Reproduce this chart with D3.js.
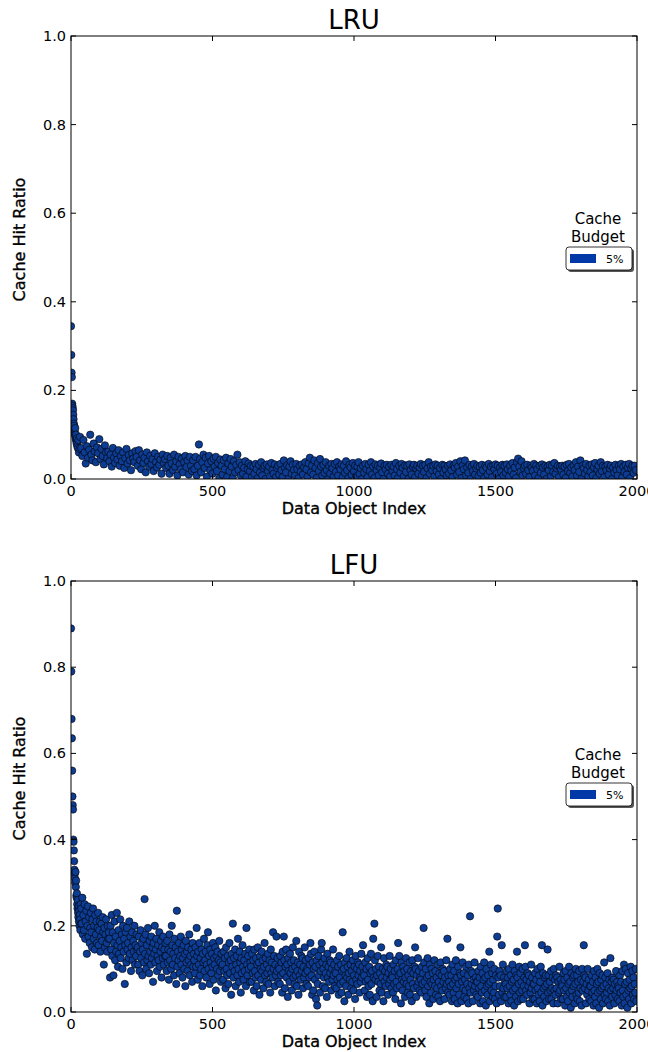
<!DOCTYPE html>
<html lang="en">
<head>
<meta charset="utf-8">
<title>Cache Hit Ratio per Data Object</title>
<script src="https://d3js.org/d3.v7.min.js"></script>
<style>
	body { margin: 0; background: #fff; }
	svg text { font-family: "DejaVu Sans", sans-serif; fill: #000; }
	.frame { fill: none; stroke: #000; stroke-width: 1px; }
	.tick-in { stroke: #000; stroke-width: 1px; }
	.dot { fill: #0d3c93; stroke: #000; stroke-width: 0.6px; }
	.axis-label { font-size: 16px; stroke: #000; stroke-width: 0.35px; }
</style>
</head>
<body>
<script>
	// x ticks, y ticks (shared by both panels)
	var xTicks = [0, 500, 1000, 1500, 2000];
	var yTicks = [0, 0.2, 0.4, 0.6, 0.8, 1.0];
	var legendLabels = ["5%"];

	// LRU: first objects one by one, then every 4th object from 32 on.
	// hit ratio, in thousandths
	var lruHeadX = [0,1,2,3,4,5,6,7,8,9,10,11,12,13,14,15,16,17,18,19,20,21,22,24,26,28,30];
	var lruHeadY = [345,280,240,230,170,165,160,155,145,135,125,120,110,105,100,115,95,90,100,85,80,92,75,70,88,60,68];
	var lruBodyStart = 32, lruBodyStep = 4;
	var lruBody = [
		95,70,52,88,60,35,74,48,66,100,55,42,80,62,38,71,58,90,45,68,52,33,76,60,47,
		62,40,55,28,70,48,36,58,44,65,30,52,40,60,25,47,68,35,54,42,20,58,46,38,63,
		50,30,65,42,22,55,36,48,15,60,40,28,52,34,45,18,58,38,26,50,32,44,12,55,36,
		45,25,52,30,12,48,35,20,55,28,40,8,50,33,22,46,15,38,52,27,42,10,50,30,18,
		42,22,50,8,30,78,45,15,38,55,25,48,5,35,52,20,40,12,46,28,50,18,36,2,44,
		30,10,42,22,48,5,35,18,45,28,2,40,15,32,55,20,38,8,30,12,25,40,5,22,35,
		18,30,5,28,12,34,22,2,32,15,38,8,25,30,0,33,18,28,6,36,20,12,33,4,25,
		30,10,34,20,4,42,25,15,31,0,28,40,12,32,20,8,34,22,2,30,16,33,10,26,38,
		22,5,35,48,15,30,10,42,25,2,36,18,45,28,8,32,14,38,20,0,30,12,34,24,6,
		34,16,38,8,28,22,33,4,30,14,40,20,2,32,26,10,36,18,30,6,28,38,12,24,0,
		30,14,34,22,4,32,18,38,10,28,2,33,20,30,8,26,35,15,0,30,22,32,12,28,6,
		32,18,28,8,36,22,2,30,14,34,25,6,31,16,30,0,33,20,10,28,32,4,24,30,12,
		26,34,8,30,16,32,2,24,38,12,28,20,30,6,33,18,30,10,25,0,32,14,30,22,8,
		30,12,33,20,4,30,26,36,10,28,16,40,2,30,22,42,8,26,14,32,0,28,18,34,10,
		24,30,6,28,14,32,20,2,30,26,10,34,18,28,4,30,22,33,12,30,0,26,16,32,8,
		30,14,33,22,6,30,18,36,10,26,2,38,46,28,16,40,8,24,30,12,32,20,4,30,26,
		18,34,8,30,22,2,30,14,33,26,10,30,0,28,20,32,6,30,16,36,12,24,30,4,28,
		22,30,10,28,2,32,18,34,14,26,6,30,20,38,8,28,16,42,0,30,24,12,34,20,6,
		30,16,33,8,26,36,2,22,30,12,38,18,30,4,28,20,32,10,24,30,0,26,14,32,20,
		8,30,22,34,4,28,16,32,10,26,34,2,24,30,14,30,20
	];

	// LFU: first objects one by one, then every 2nd object from 36 on.
	var lfuHeadX = [0,1,2,3,4,5,6,7,8,9,10,11,12,13,14,15,16,17,18,19,20,21,22,23,24,25,26,27,28,29,30,31,32,33,34,35];
	var lfuHeadY = [890,790,680,635,560,500,480,470,400,395,375,350,330,320,310,300,325,290,305,270,265,275,250,240,260,230,220,245,210,235,200,225,215,190,250,205];
	var lfuBodyStart = 36, lfuBodyStep = 2;
	var lfuBody = [
		240,205,265,180,225,190,250,170,210,235,135,200,245,175,220,160,195,230,185,150,215,240,170,200,145,225,180,210,160,195,230,155,190,210,140,175,205,165,220,185,110,195,150,180,215,160,140,200,170,185,
		170,80,200,145,225,130,185,85,160,210,120,175,140,230,155,105,190,135,165,215,125,150,180,100,200,140,170,65,155,185,115,195,145,160,125,210,135,175,95,150,185,120,165,140,200,110,155,130,180,145,
		150,110,175,95,140,190,125,160,85,145,170,115,262,135,180,100,155,120,195,130,90,165,140,110,175,125,150,70,160,135,200,115,145,170,95,130,155,120,185,105,140,165,80,150,125,175,110,145,130,160,
		130,95,165,115,145,75,180,120,140,100,200,155,110,135,85,170,125,150,65,235,105,140,120,160,90,130,175,110,145,80,125,155,100,135,60,165,115,140,95,150,120,180,85,130,110,145,70,160,105,135,
		120,90,150,105,195,130,75,140,110,160,85,125,100,145,60,135,115,170,95,120,140,80,110,155,185,100,130,65,145,115,90,135,105,160,75,125,110,150,50,130,100,140,85,120,165,95,115,70,135,105,
		110,75,140,95,125,55,150,100,85,130,65,115,160,90,120,40,135,105,205,80,125,95,145,60,110,130,85,170,100,70,140,115,45,125,90,155,105,75,120,95,135,60,195,110,85,130,100,145,70,115,
		105,70,135,90,120,50,145,95,80,125,60,110,150,85,115,40,130,100,75,140,95,120,55,105,160,85,125,70,110,90,135,65,100,120,45,145,90,115,80,185,100,130,60,110,85,175,95,125,70,105,
		100,65,130,85,115,45,140,90,175,120,55,105,145,80,110,35,125,95,70,135,90,115,50,100,150,80,120,65,105,85,165,60,95,115,40,140,85,110,75,130,95,125,55,105,80,150,90,120,65,100,
		95,60,125,80,110,160,135,85,40,115,50,100,140,75,105,30,120,15,65,130,85,110,45,95,145,160,115,60,100,80,125,55,90,110,35,135,80,105,70,120,90,115,50,100,75,145,85,110,60,95,
		90,55,120,75,105,40,130,80,65,110,45,95,185,70,100,25,115,85,60,125,80,105,40,90,140,75,110,55,95,70,120,50,85,105,30,130,75,100,65,115,85,110,45,95,70,135,80,105,155,90,
		85,50,115,70,100,35,125,75,60,105,40,90,135,65,95,25,170,80,205,120,75,100,35,85,130,70,105,50,90,65,150,45,80,100,25,125,70,95,60,110,80,105,40,90,65,130,75,100,55,85,
		80,45,110,65,95,30,120,70,55,100,160,85,130,60,90,20,115,75,50,105,70,95,35,80,125,65,100,45,85,60,115,40,75,95,25,120,65,90,55,105,150,100,35,85,60,125,70,95,50,80,
		75,45,105,65,90,195,115,70,50,100,35,80,125,60,85,20,110,70,45,100,65,90,30,75,120,60,95,40,80,55,110,35,70,90,25,115,60,85,50,100,70,95,30,80,55,120,65,170,45,85,
		70,40,100,60,85,25,110,65,45,95,30,75,120,55,80,20,105,65,40,90,150,85,25,70,115,55,90,35,75,50,105,30,65,85,20,110,55,222,45,95,65,90,25,75,50,115,60,80,40,70,
		70,35,95,55,80,20,105,60,45,90,25,75,115,50,80,15,100,60,40,85,65,140,25,70,110,50,90,35,75,45,100,30,60,85,20,175,240,80,40,95,60,85,25,155,45,110,55,80,35,70,
		65,35,95,55,80,20,100,60,40,85,25,70,110,50,75,15,95,55,35,85,140,80,25,65,105,45,90,30,70,50,100,30,60,80,155,105,50,75,40,90,60,85,20,70,45,110,55,80,30,65,
		65,30,90,50,75,20,100,55,40,85,25,70,105,45,155,15,90,55,35,80,60,85,25,65,145,45,85,30,70,50,95,30,55,80,20,100,50,75,40,85,55,80,20,70,45,105,50,75,30,65,
		60,30,90,50,75,15,95,55,35,80,25,65,105,45,70,10,90,50,35,80,60,85,20,65,100,40,85,30,70,45,95,25,55,75,15,100,50,70,155,85,55,80,20,65,40,100,50,75,30,60,
		60,25,85,45,70,15,95,50,35,80,20,65,100,45,70,10,90,50,30,75,55,85,20,60,115,40,80,30,65,45,90,25,55,75,15,125,50,70,35,80,55,75,20,65,40,95,50,70,30,60,
		55,25,85,45,70,15,95,50,35,110,20,65,100,40,70,10,90,50,30,75,55,105,20,60,95,40,80,30,65,45,100,25
	];

	function toPoints(headX, headY, body, start, step) {
		var pts = headX.map(function(x, i) { return { x: x, y: headY[i] / 1000 }; });
		body.forEach(function(v, i) { pts.push({ x: start + i * step, y: v / 1000 }); });
		return pts;
	}

	var panels = [
		{ id: "lru", title: "LRU", top: 36, bottom: 479, legendTop: 247,
		  points: toPoints(lruHeadX, lruHeadY, lruBody, lruBodyStart, lruBodyStep) },
		{ id: "lfu", title: "LFU", top: 581, bottom: 1012, legendTop: 783,
		  points: toPoints(lfuHeadX, lfuHeadY, lfuBody, lfuBodyStart, lfuBodyStep) }
	];

	var w = 648, h = 1052;
	var left = 71, right = 637;

	var svg = d3.select("body").append("svg")
		.attr("width", w)
		.attr("height", h);

	var defs = svg.append("defs");

	panels.forEach(function(p) {
		var x = d3.scaleLinear().domain([0, 2000]).range([left, right]);
		var y = d3.scaleLinear().domain([0, 1]).range([p.bottom, p.top]);
		var g = svg.append("g");

		defs.append("clipPath").attr("id", "clip-" + p.id)
			.append("rect")
			.attr("x", left).attr("y", p.top)
			.attr("width", right - left).attr("height", p.bottom - p.top);

		// dots
		g.append("g")
			.attr("clip-path", "url(#clip-" + p.id + ")")
			.selectAll("circle")
			.data(p.points)
			.enter().append("circle")
			.attr("class", "dot")
			.attr("cx", function(d) { return x(d.x); })
			.attr("cy", function(d) { return y(d.y); })
			.attr("r", 3.7);

		// inward ticks on all four sides
		var tl = 5;
		xTicks.forEach(function(t) {
			g.append("line").attr("class", "tick-in")
				.attr("x1", x(t)).attr("x2", x(t))
				.attr("y1", p.bottom).attr("y2", p.bottom - tl);
			g.append("line").attr("class", "tick-in")
				.attr("x1", x(t)).attr("x2", x(t))
				.attr("y1", p.top).attr("y2", p.top + tl);
			g.append("text")
				.attr("x", x(t)).attr("y", p.bottom + 17)
				.attr("text-anchor", "middle")
				.style("font-size", "14.5px")
				.text(t);
		});
		yTicks.forEach(function(t) {
			g.append("line").attr("class", "tick-in")
				.attr("x1", left).attr("x2", left + tl)
				.attr("y1", y(t)).attr("y2", y(t));
			g.append("line").attr("class", "tick-in")
				.attr("x1", right).attr("x2", right - tl)
				.attr("y1", y(t)).attr("y2", y(t));
			g.append("text")
				.attr("x", left - 5).attr("y", y(t) + 5)
				.attr("text-anchor", "end")
				.style("font-size", "14.5px")
				.text(d3.format(".1f")(t));
		});

		g.append("rect").attr("class", "frame")
			.attr("x", left).attr("y", p.top)
			.attr("width", right - left).attr("height", p.bottom - p.top);

		// titles and axis labels
		g.append("text")
			.attr("x", (left + right) / 2).attr("y", p.top - 7)
			.attr("text-anchor", "middle")
			.style("font-size", "26px")
			.text(p.title);

		g.append("text")
			.attr("class", "axis-label")
			.attr("x", (left + right) / 2).attr("y", p.bottom + 35)
			.attr("text-anchor", "middle")
			.text("Data Object Index");

		var cy = (p.top + p.bottom) / 2 - 18;
		g.append("text")
			.attr("class", "axis-label")
			.attr("transform", "translate(25," + cy + ") rotate(-90)")
			.attr("text-anchor", "middle")
			.text("Cache Hit Ratio");

		// legend
		var lg = g.append("g").attr("transform", "translate(566," + p.legendTop + ")");
		lg.append("text").attr("x", 32).attr("y", -23)
			.attr("text-anchor", "middle").style("font-size", "15px").text("Cache");
		lg.append("text").attr("x", 32).attr("y", -5)
			.attr("text-anchor", "middle").style("font-size", "15px").text("Budget");
		lg.append("rect")
			.attr("x", 2).attr("y", 2).attr("width", 66).attr("height", 23).attr("rx", 3)
			.style("fill", "#555");
		lg.append("rect")
			.attr("x", 0).attr("y", 0).attr("width", 66).attr("height", 23).attr("rx", 3)
			.style("fill", "#fff").style("stroke", "#000").style("stroke-width", 0.8);
		lg.append("rect")
			.attr("x", 4).attr("y", 7).attr("width", 26).attr("height", 9)
			.style("fill", "#0038a8");
		lg.selectAll("text.leg")
			.data(legendLabels)
			.enter().append("text")
			.attr("class", "leg")
			.attr("x", 40).attr("y", 16)
			.style("font-size", "11px")
			.text(function(d) { return d; });
	});
</script>
</body>
</html>
